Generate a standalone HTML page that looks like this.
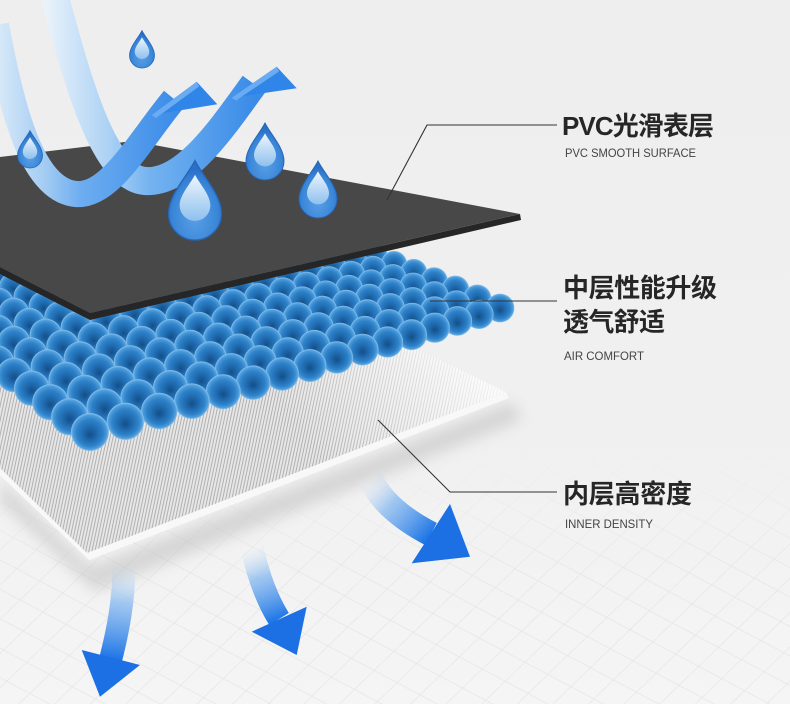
<!DOCTYPE html>
<html><head><meta charset="utf-8">
<style>
html,body{margin:0;padding:0;background:#efefef;overflow:hidden;}
svg{display:block;}
text{font-family:"Liberation Sans","Noto Sans CJK SC",sans-serif;}
</style></head><body>
<svg id="s" width="790" height="704" viewBox="0 0 790 704">
<defs>
 <linearGradient id="bg" x1="0" y1="0" x2="0" y2="1">
  <stop offset="0" stop-color="#eeeeee"/><stop offset="0.6" stop-color="#f0f0f0"/><stop offset="1" stop-color="#f5f5f5"/>
 </linearGradient>
 <pattern id="grid" width="26" height="26" patternUnits="userSpaceOnUse" patternTransform="rotate(28) skewX(-18)">
  <path d="M0 0H26M0 0V26" stroke="#e2e2e2" stroke-width="1.2" fill="none"/>
 </pattern>
 <linearGradient id="gm" x1="0" y1="0" x2="0" y2="1">
  <stop offset="0" stop-color="#fff" stop-opacity="0"/><stop offset="0.45" stop-color="#fff" stop-opacity="1"/>
 </linearGradient>
 <mask id="gmask"><rect x="0" y="450" width="790" height="254" fill="url(#gm)"/></mask>
 <pattern id="mesh" width="3" height="3" patternUnits="userSpaceOnUse" patternTransform="rotate(12)">
  <rect width="3" height="3" fill="#e7e7e7"/><rect width="1" height="3" fill="#b0b0b0"/>
 </pattern>
 <linearGradient id="meshfade" gradientUnits="userSpaceOnUse" x1="330" y1="470" x2="480" y2="360">
  <stop offset="0" stop-color="#fff" stop-opacity="0"/><stop offset="1" stop-color="#fff" stop-opacity="0.85"/>
 </linearGradient>
 <filter id="blur" x="-20%" y="-20%" width="140%" height="140%"><feGaussianBlur stdDeviation="7"/></filter>
 <radialGradient id="sg" cx="50%" cy="50%" r="50%" fx="50%" fy="58%">
  <stop offset="0" stop-color="#134f88"/>
  <stop offset="0.35" stop-color="#1f69ad"/>
  <stop offset="0.7" stop-color="#2e82c9"/>
  <stop offset="0.9" stop-color="#4e9ddc"/>
  <stop offset="1" stop-color="#8ec3ec"/>
 </radialGradient>
 <linearGradient id="rb1" gradientUnits="userSpaceOnUse" x1="0" y1="0" x2="180" y2="0">
  <stop offset="0" stop-color="#d6e8f8"/><stop offset="0.25" stop-color="#a3ccf3"/><stop offset="0.45" stop-color="#6dadf0"/><stop offset="1" stop-color="#3a8be8"/>
 </linearGradient>
 <linearGradient id="rb2" gradientUnits="userSpaceOnUse" x1="45" y1="0" x2="255" y2="0">
  <stop offset="0" stop-color="#eaf3fb"/><stop offset="0.3" stop-color="#add2f4"/><stop offset="0.5" stop-color="#74b3f0"/><stop offset="1" stop-color="#3a8be8"/>
 </linearGradient>
 <linearGradient id="da1" gradientUnits="userSpaceOnUse" x1="370" y1="478" x2="431" y2="534">
  <stop offset="0" stop-color="#bcd8f5" stop-opacity="0"/><stop offset="0.4" stop-color="#7db4f0" stop-opacity="0.7"/><stop offset="1" stop-color="#1f76e6"/>
 </linearGradient>
 <linearGradient id="da2" gradientUnits="userSpaceOnUse" x1="252" y1="548" x2="279" y2="619">
  <stop offset="0" stop-color="#bcd8f5" stop-opacity="0"/><stop offset="0.4" stop-color="#7db4f0" stop-opacity="0.7"/><stop offset="1" stop-color="#1f76e6"/>
 </linearGradient>
 <linearGradient id="da3" gradientUnits="userSpaceOnUse" x1="124" y1="565" x2="111" y2="658">
  <stop offset="0" stop-color="#bcd8f5" stop-opacity="0"/><stop offset="0.4" stop-color="#7db4f0" stop-opacity="0.7"/><stop offset="1" stop-color="#1f76e6"/>
 </linearGradient>
 <radialGradient id="dg" cx="0.5" cy="0.7" r="0.6">
  <stop offset="0" stop-color="#5aa0e6"/><stop offset="0.7" stop-color="#3a86d8"/><stop offset="1" stop-color="#2a6fc6"/>
 </radialGradient>
 <linearGradient id="dh" x1="0" y1="0" x2="0" y2="1">
  <stop offset="0" stop-color="#eef6fd"/><stop offset="1" stop-color="#8fc0ee"/>
 </linearGradient>
 <path id="drop" d="M0,-2 C0.3,-1.4 1,-0.7 1,0 A1,1 0 0 1 0,1 A1,1 0 0 1 -1,0 C-1,-0.7 -0.3,-1.4 0,-2 Z"/>
</defs>

<!-- background -->
<rect width="790" height="704" fill="url(#bg)"/>
<rect x="0" y="450" width="790" height="254" fill="url(#grid)" mask="url(#gmask)"/>

<!-- mesh sheet shadow -->
<path d="M0,480 L90,566 L512,402 L522,420 L95,592 L0,502 Z" fill="#b5b5b5" opacity="0.45" filter="url(#blur)"/>
<!-- mesh sheet edge band -->
<path d="M0,468 L87,553 L506,392 L509,398 L89,560 L0,475 Z" fill="#f8f8f8"/>
<!-- mesh sheet surface -->
<path d="M0,330 L380,330 L506,392 L87,553 L0,468 Z" fill="url(#mesh)"/>
<path d="M0,330 L380,330 L506,392 L87,553 L0,468 Z" fill="url(#meshfade)"/>

<!-- sphere layer -->
<polygon points="90,432 500,308 304,227 -78,306" fill="#2a72b5"/>
<g id="spheres"></g>

<!-- dark PVC sheet -->
<path d="M0,267 L90,313 L520,214 L521,220 L90,320 L0,274 Z" fill="#262626"/>
<path d="M0,157 L133,141 L520,214 L90,313 L0,267 Z" fill="#484848"/>

<!-- leader lines -->
<g stroke="#333" stroke-width="1.1" fill="none">
 <polyline points="387,200 427,125 557,125"/>
 <line x1="430" y1="301" x2="557" y2="301"/>
 <polyline points="378,420 450,492 557,492"/>
</g>

<!-- top ribbons -->
<path d="M55,-2 C75,70 102,178 145,181 C185,184 222,128 254,84" stroke="url(#rb2)" stroke-width="28" fill="none"/>
<polygon points="231.7,97.7 276.7,66.7 296.7,88.3" fill="#2f86e8"/>
<polygon points="231.7,97.7 276.7,66.7 279,71.5 236,100.5" fill="#6aabf1"/>
<path d="M-4,25 C12,110 32,190 76,194 C110,197 140,140 174,99" stroke="url(#rb1)" stroke-width="26" fill="none"/>
<polygon points="151.7,115 196.7,81.7 217.3,104.3" fill="#2f86e8"/>
<polygon points="151.7,115 196.7,81.7 199,86.5 156,118" fill="#6aabf1"/>

<!-- drops -->
<g transform="translate(142,55.5) scale(12.5)">
 <use href="#drop" fill="url(#dg)" stroke="#2466b8" stroke-width="0.06"/>
 <use href="#drop" transform="translate(0,-0.3) scale(0.58)" fill="url(#dh)"/>
</g>
<g transform="translate(30,155.5) scale(12.5)">
 <use href="#drop" fill="url(#dg)" stroke="#2466b8" stroke-width="0.06"/>
 <use href="#drop" transform="translate(0,-0.3) scale(0.58)" fill="url(#dh)"/>
</g>
<g transform="translate(195,213.5) scale(26.5)">
 <use href="#drop" fill="url(#dg)" stroke="#2466b8" stroke-width="0.05"/>
 <use href="#drop" transform="translate(0,-0.3) scale(0.58)" fill="url(#dh)"/>
</g>
<g transform="translate(265,161) scale(19)">
 <use href="#drop" fill="url(#dg)" stroke="#2466b8" stroke-width="0.05"/>
 <use href="#drop" transform="translate(0,-0.3) scale(0.58)" fill="url(#dh)"/>
</g>
<g transform="translate(318,199) scale(19)">
 <use href="#drop" fill="url(#dg)" stroke="#2466b8" stroke-width="0.05"/>
 <use href="#drop" transform="translate(0,-0.3) scale(0.58)" fill="url(#dh)"/>
</g>

<!-- down arrows -->
<path d="M370,478 C380,500 400,518 431,534" stroke="url(#da1)" stroke-width="25" fill="none"/>
<polygon points="411.7,563.3 450,504 470,556.7" fill="#1c70e4"/>
<path d="M252,548 C258,575 266,598 279,619" stroke="url(#da2)" stroke-width="23" fill="none"/>
<polygon points="251.7,631.7 306.7,606.7 296.7,655" fill="#1c70e4"/>
<path d="M124,565 C124,600 118,630 111,658" stroke="url(#da3)" stroke-width="23" fill="none"/>
<polygon points="81.7,650 140,665 100,696.7" fill="#1c70e4"/>

<!-- labels -->
<text x="562" y="135" font-size="26" font-weight="bold" fill="#262626" textLength="152">PVC光滑表层</text>
<text x="565" y="157" font-size="12" fill="#444" textLength="131" lengthAdjust="spacingAndGlyphs">PVC SMOOTH SURFACE</text>
<text x="563" y="297" font-size="26" font-weight="bold" fill="#262626" textLength="154">中层性能升级</text>
<text x="563" y="331" font-size="26" font-weight="bold" fill="#262626" textLength="102">透气舒适</text>
<text x="564" y="360" font-size="12" fill="#444" textLength="80" lengthAdjust="spacingAndGlyphs">AIR COMFORT</text>
<text x="563" y="503" font-size="26" font-weight="bold" fill="#262626" textLength="129">内层高密度</text>
<text x="565" y="528" font-size="12" fill="#444" textLength="88" lengthAdjust="spacingAndGlyphs">INNER DENSITY</text>
</svg>
<script>
(function(){
var P=[[90,432],[500,308],[304,227],[-78,306]];
var x0=P[0][0],y0=P[0][1],x1=P[1][0],y1=P[1][1],x2=P[2][0],y2=P[2][1],x3=P[3][0],y3=P[3][1];
var sx=x0-x1+x2-x3, sy=y0-y1+y2-y3, dx1=x1-x2, dx2=x3-x2, dy1=y1-y2, dy2=y3-y2;
var den=dx1*dy2-dx2*dy1;
var g=(sx*dy2-dx2*sy)/den, h=(dx1*sy-sx*dy1)/den;
var a=x1-x0+g*x1, b=x3-x0+h*x3, c=x0, d=y1-y0+g*y1, e=y3-y0+h*y3, f=y0;
function m(u,v){var w=g*u+h*v+1;return [(a*u+b*v+c)/w,(d*u+e*v+f)/w,w];}
var arr=[];
for(var i=0;i<=15;i++){for(var j=0;j<=11;j++){arr.push(m(i/15,j/10));}}
arr.sort(function(p,q){return q[2]-p[2];});
var s='';
for(var k=0;k<arr.length;k++){var p=arr[k];
 s+='<circle cx="'+p[0].toFixed(1)+'" cy="'+p[1].toFixed(1)+'" r="'+(19/p[2]).toFixed(1)+'" fill="url(#sg)"/>';}
document.getElementById('spheres').innerHTML=s;
})();
</script>
</body></html>
